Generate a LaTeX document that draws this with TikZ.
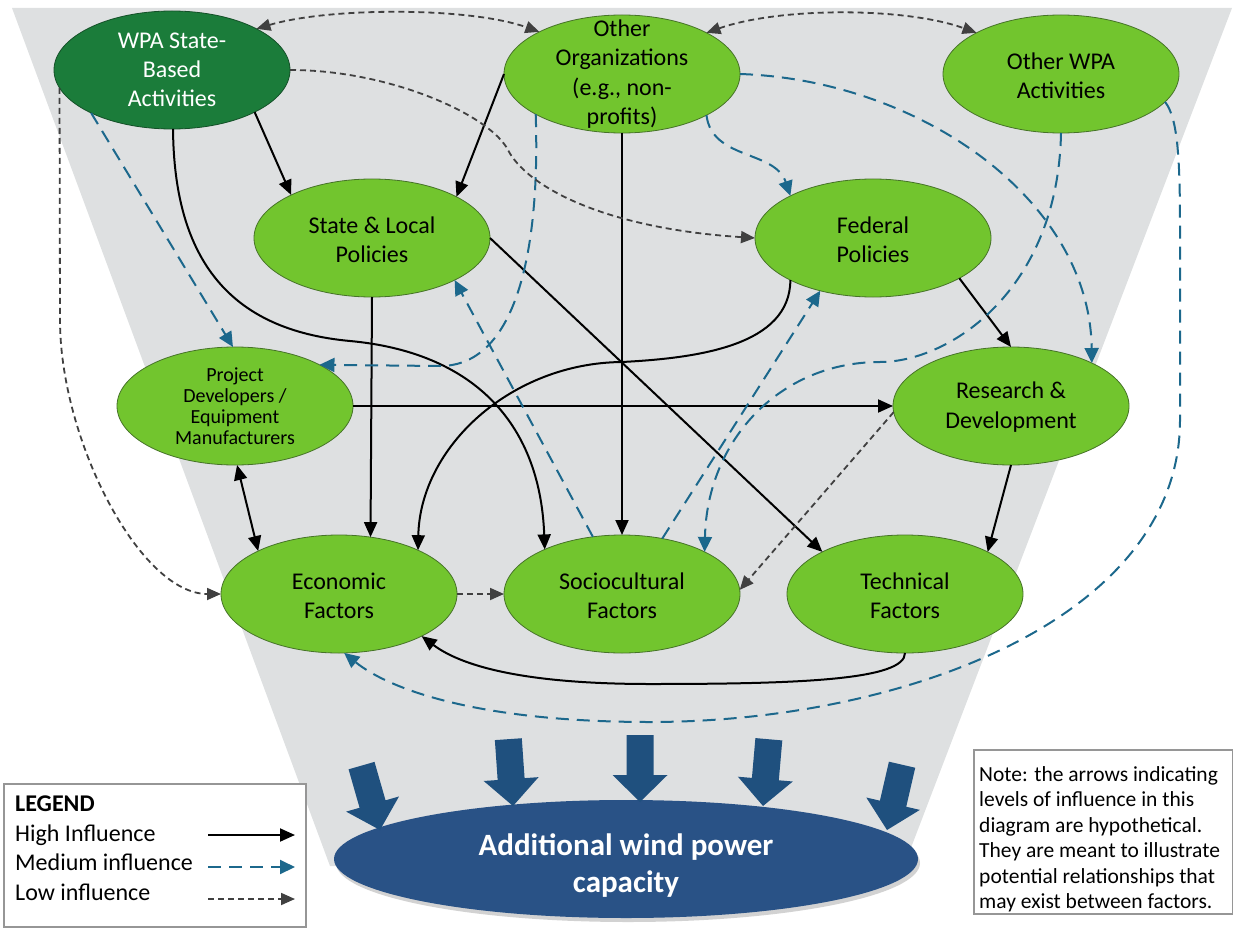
\documentclass[tikz,border=0pt]{standalone}
\usepackage{fontspec}
\setmainfont{Carlito}
\usetikzlibrary{arrows.meta,shapes.geometric}
\definecolor{bggray}{RGB}{222,224,225}
\definecolor{lgreen}{RGB}{114,197,46}
\definecolor{lgborder}{RGB}{70,115,40}
\definecolor{dgreen}{RGB}{27,124,58}
\definecolor{dgborder}{RGB}{20,80,40}
\definecolor{bluedash}{RGB}{28,104,140}
\definecolor{lowgray}{RGB}{64,64,64}
\definecolor{windblue}{RGB}{41,82,134}
\definecolor{arrowblue}{RGB}{31,80,126}
\definecolor{boxgray}{RGB}{150,150,150}
\begin{document}
\begin{tikzpicture}[x=1pt,y=-1pt,
  ell/.style={ellipse,draw=lgborder,line width=0.8pt,fill=lgreen,minimum width=236pt,minimum height=118pt,inner sep=0pt,outer sep=0pt},
  dell/.style={ell,fill=dgreen,draw=dgborder},
  ntxt/.style={font=\fontsize{24}{29.3}\selectfont,align=center,text=black,inner sep=0pt},
  stxt/.style={font=\fontsize{20}{21}\selectfont,align=center,text=black,inner sep=0pt},
  ltxt/.style={font=\fontsize{24}{29}\selectfont,inner sep=0pt,anchor=base west},
  hi/.style={draw=black,line width=2pt,-{Triangle[length=15pt,width=13pt]}},
  hib/.style={draw=black,line width=2pt,{Triangle[length=15pt,width=13pt]}-{Triangle[length=15pt,width=13pt]}},
  med/.style={draw=bluedash,line width=2pt,dash pattern=on 13pt off 8pt,-{Triangle[length=15pt,width=14pt]}},
  low/.style={draw=lowgray,line width=1.8pt,dash pattern=on 6pt off 4pt,-{Triangle[length=14pt,width=12pt]}},
  lowb/.style={low,{Triangle[length=14pt,width=12pt]}-{Triangle[length=14pt,width=12pt]}},
  blockarrow/.style={fill=arrowblue},
  boxstyle/.style={draw=boxgray,line width=1.5pt,fill=white,inner sep=0pt,anchor=north west}
  ]
\useasboundingbox (0,0) rectangle (1233,928);
% funnel background
\fill[bggray] (12,8) -- (1232,8) -- (904,866) -- (330,866) -- cycle;

% target ellipse
\fill[gray!70,opacity=0.5] (628,863) ellipse [x radius=292pt, y radius=59pt];
\node[ellipse,fill=windblue,minimum width=584pt,minimum height=118pt,inner sep=0pt] (wind) at (626,859) {};
\node[font=\fontsize{31}{37}\selectfont\bfseries,text=white,align=center,inner sep=0pt] (windtxt) at (626,866) {Additional wind power\\capacity};

% block arrows
\foreach \tx/\ty/\r in {380/830/16, 513/806/4, 640/802/0, 763/806/-5, 887/830/-13}{
  \fill[blockarrow,shift={(\tx,\ty)},rotate=\r] (0,0) -- (-27.5,-27) -- (-13.5,-27) -- (-13.5,-67) -- (13.5,-67) -- (13.5,-27) -- (27.5,-27) -- cycle;
}

% nodes
\node[dell] (wpa) at (172,70) {};
\node[ell] (oo) at (622,74) {};
\node[ell] (owpa) at (1061,74) {};
\node[ell] (slp) at (372,238) {};
\node[ell] (fed) at (873,238) {};
\node[ell] (pd) at (235,406) {};
\node[ell] (rd) at (1011,406) {};
\node[ell] (eco) at (339,594) {};
\node[ell] (soc) at (622,594) {};
\node[ell] (tech) at (905,594) {};

% high influence
\draw[hi] (wpa.-27) -- (slp.152);
\draw[hi] (wpa.-89) .. controls (174,260) and (230,330) .. (350,341) .. controls (470,352) and (540,420) .. (soc.150);
\draw[hi] (oo.180) -- (slp.26);
\draw[hi] (oo.-90) -- (soc.90);
\draw[hi] (slp.-90) -- (eco.61);
\draw[hi] (slp.0) -- (tech.153);
\draw[hi] (fed.207) .. controls (790,345) and (700,358) .. (622,362) .. controls (511,363) and (420,447) .. (eco.29);
\draw[hi] (fed.-25) -- (rd.90);
\draw[hi] (pd.0) -- (rd.180);
\draw[hi] (rd.-90) -- (tech.27);
\draw[hib] (pd.-88) -- (eco.152);
\draw[hi] (tech.-90) .. controls (905,680) and (800,684) .. (650,684) .. controls (520,684) and (460,665) .. (eco.-27);

% medium influence
\draw[med] (wpa.208) -- (pd.92);
\draw[med] (oo.205) .. controls (540,240) and (520,366) .. (440,366) -- (pd.26);
\draw[med] (oo.-26) .. controls (712,160) and (775,150) .. (fed.153);
\draw[med] (oo.0) .. controls (920,80) and (1090,200) .. (rd.28);
\draw[med] (owpa.-90) .. controls (1058,290) and (950,362) .. (880,362) .. controls (780,362) and (707,440) .. (soc.27);
\draw[med] (owpa.-15) .. controls (1178,118) and (1180,160) .. (1180,230) -- (1180,420) .. controls (1180,620) and (900,722) .. (650,722) .. controls (480,722) and (390,690) .. (eco.-85);
\draw[med] (soc.117) -- (slp.-27);
\draw[med] (soc.54) -- (fed.225);

% low influence
\draw[lowb] (wpa.26) .. controls (330,7) and (470,7) .. (oo.153);
\draw[lowb] (oo.26) .. controls (780,7) and (905,7) .. (owpa.154);
\draw[low] (wpa.0) .. controls (390,70) and (490,115) .. (508,150) .. controls (526,185) and (600,228) .. (fed.180);
\draw[low] (wpa.189) -- (60,320) .. controls (60,440) and (140,594) .. (eco.180);
\draw[low] (eco.0) -- (soc.180);
\draw[low] (rd.183) -- (soc.2);

% node texts
\node[ntxt,text=white] (wpat) at (172,70) {WPA State-\\Based\\Activities};
\node[ntxt] (oot) at (622,74) {Other\\Organizations\\(e.g., non-\\profits)};
\node[ntxt] (owpat) at (1061,76) {Other WPA\\Activities};
\node[ntxt] (slpt) at (372,240) {State \& Local\\Policies};
\node[ntxt] (fedt) at (873,240) {Federal\\Policies};
\node[stxt] (pdt) at (235,406) {Project\\Developers /\\Equipment\\Manufacturers};
\node[ntxt] (rdt) at (1011,407) {Research \&\\Development};
\node[ntxt] (ecot) at (339,596) {Economic\\Factors};
\node[ntxt] (soct) at (622,596) {Sociocultural\\Factors};
\node[ntxt] (techt) at (905,596) {Technical\\Factors};

% legend
\node[boxstyle,minimum width=302pt,minimum height=143pt] (legend) at (3,783) {};
\node[ltxt] (lg0) at (15,811) {\textbf{LEGEND}};
\node[ltxt] (lg1) at (15,841) {High Influence};
\node[ltxt] (lg2) at (15,870) {Medium influence};
\node[ltxt] (lg3) at (15,900) {Low influence};
\coordinate (a1s) at (208,835); \coordinate (a1e) at (295,835);
\coordinate (a2s) at (208,867); \coordinate (a2e) at (295,867);
\coordinate (a3s) at (208,899); \coordinate (a3e) at (295,899);
\draw[hi] (a1s) -- (a1e);
\draw[med] (a2s) -- (a2e);
\draw[low] (a3s) -- (a3e);

% note
\node[boxstyle,minimum width=259pt,minimum height=164pt] (notebox) at (973,749) {};
\node[font=\fontsize{21.5}{25.5}\selectfont,align=left,anchor=north west,inner sep=0pt] (note) at (979,766) {Note: the arrows indicating\\levels of influence in this\\diagram are hypothetical.\\They are meant to illustrate\\potential relationships that\\may exist between factors.};
\end{tikzpicture}
\end{document}
